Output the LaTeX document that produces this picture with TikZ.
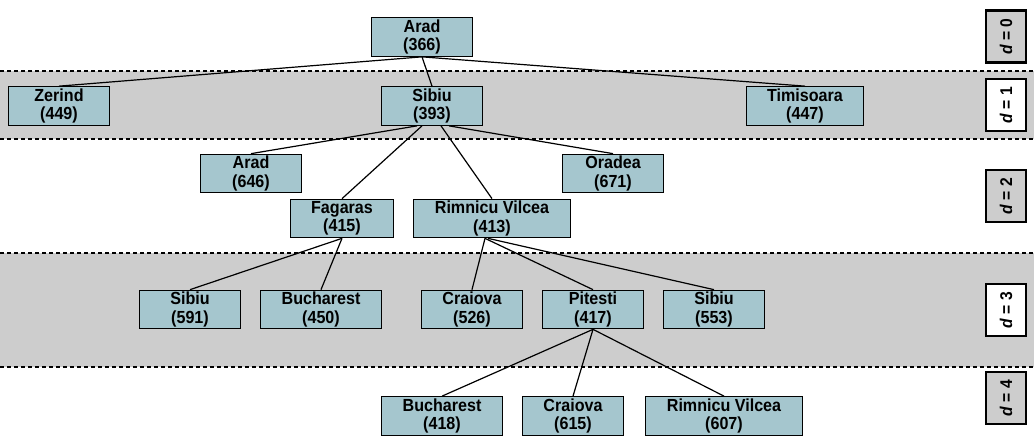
\documentclass[tikz,border=0pt]{standalone}
\usepackage{fontspec}
\setmainfont{Liberation Sans}
\newfontfamily\cityfont[FakeStretch=0.92]{Liberation Sans}
\definecolor{band}{RGB}{205,205,205}
\definecolor{cityfill}{RGB}{165,198,206}
\tikzset{
  city/.style={draw, fill=cityfill, line width=1.2pt, align=center,
    minimum width=101pt, minimum height=38.5pt, inner xsep=21pt, inner ysep=0pt,
    font=\cityfont\bfseries\fontsize{17.5}{18.5}\selectfont},
  depth/.style={draw, line width=2.2pt, rotate=90, minimum width=52pt,
    minimum height=40pt, inner sep=0pt, font=\cityfont\bfseries\fontsize{17}{18}\selectfont},
  bandline/.style={line width=1.1pt, dash pattern=on 4pt off 3pt},
  edge/.style={line width=1.2pt}
}
\begin{document}
\begin{tikzpicture}[x=1pt,y=-1pt]
\useasboundingbox (0,0) rectangle (1034,442);
% shaded levels
\fill[band] (0,71) rectangle (1034,139);
\fill[band] (0,253) rectangle (1034,367);
\foreach \y in {71,139,253,367}
{
   \draw[bandline] (0,\y)--(1034,\y);
}

% search tree
\node[city] (arad) at (422,37) {Arad\\(366)};
\node[city] (zerind) at (59,106) {Zerind\\(449)};
\node[city] (sibiu) at (432,106) {Sibiu\\(393)};
\node[city] (timisoara) at (805,106) {Timisoara\\(447)};
\node[city] (arad2) at (251,173.5) {Arad\\(646)};
\node[city] (oradea) at (613,173.5) {Oradea\\(671)};
\node[city] (fagaras) at (342,218.5) {Fagaras\\(415)};
\node[city] (rimnicu) at (492,218.5) {Rimnicu Vilcea\\(413)};
\node[city] (sibiu2) at (190,309.5) {Sibiu\\(591)};
\node[city] (bucharest) at (321,309.5) {Bucharest\\(450)};
\node[city] (craiova) at (472,309.5) {Craiova\\(526)};
\node[city] (pitesti) at (593,309.5) {Pitesti\\(417)};
\node[city] (sibiu3) at (714,309.5) {Sibiu\\(553)};
\node[city] (bucharest2) at (442,416) {Bucharest\\(418)};
\node[city] (craiova2) at (573,416) {Craiova\\(615)};
\node[city] (rimnicu2) at (724,416) {Rimnicu Vilcea\\(607)};

\foreach \a/\b/\s in {arad/zerind/0, arad/sibiu/0, arad/timisoara/0,
  sibiu/arad2/-15, sibiu/fagaras/-10, sibiu/rimnicu/9, sibiu/oradea/17,
  fagaras/sibiu2/0, fagaras/bucharest/0,
  rimnicu/craiova/-7, rimnicu/pitesti/-7, rimnicu/sibiu3/-4,
  pitesti/bucharest2/0, pitesti/craiova2/0, pitesti/rimnicu2/0}
{
   \draw[edge] ([xshift=\s pt]\a.south)--(\b.north);
}

% depth labels
\foreach \d/\y/\c in {0/36.5/band, 1/105/white, 2/196/band, 3/310/white, 4/398/band}
{
   \node[depth, fill=\c] (d\d) at (1006,\y) {\textit{d} = \d};
}
\end{tikzpicture}
\end{document}
